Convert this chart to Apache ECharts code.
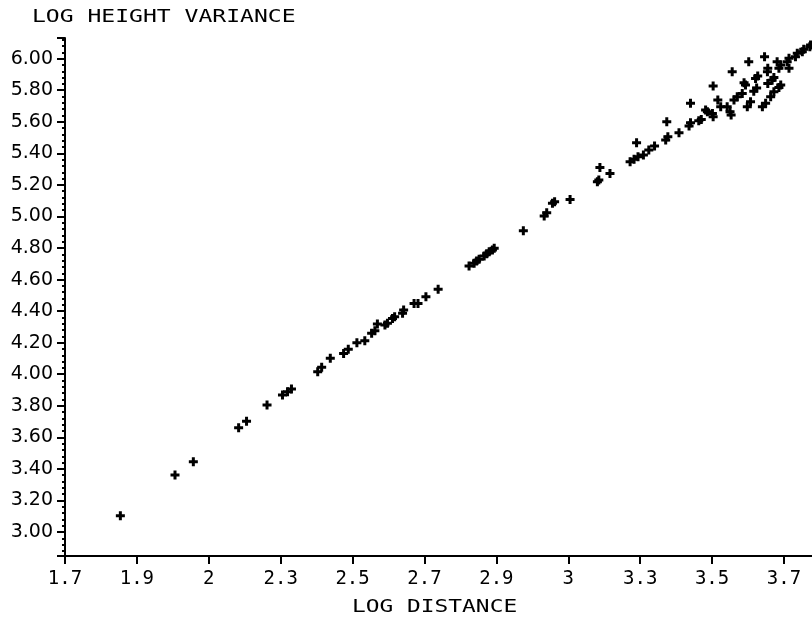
<!DOCTYPE html>
<html>
<head>
<meta charset="utf-8">
<script src="https://cdn.jsdelivr.net/npm/echarts@6/dist/echarts.min.js"></script>
<style>html,body{margin:0;padding:0;background:#fff}#c{width:812px;height:619px}</style>
</head>
<body>
<div id="c"></div>
<script>
// Tick labels as printed on the original x axis (one per 0.2 step from 1.7)
var xTickLabels = ['1.7','1.9','2','2.3','2.5','2.7','2.9','3','3.3','3.5','3.7'];
var xTitle = 'LOG DISTANCE';
var yTitle = 'LOG HEIGHT VARIANCE';

// log distance values
var logDistance = [
  1.854, 2.006, 2.057, 2.183, 2.205, 2.262, 2.305, 2.319, 2.330,
  2.403, 2.414, 2.438, 2.475, 2.488, 2.512, 2.534, 2.553, 2.562, 2.569,
  2.590, 2.597, 2.611, 2.617, 2.639, 2.642, 2.671, 2.682, 2.704, 2.738,
  2.824, 2.838, 2.845, 2.852, 2.866, 2.873, 2.880, 2.889, 2.894,
  2.975, 3.033, 3.040, 3.056, 3.062, 3.105, 3.181, 3.185, 3.188, 3.216,
  3.272, 3.283, 3.294, 3.290, 3.309, 3.324, 3.340, 3.371, 3.377, 3.374,
  3.408, 3.436, 3.440, 3.440, 3.463, 3.470, 3.482, 3.487, 3.501, 3.503,
  3.503, 3.516, 3.524, 3.542, 3.550, 3.553, 3.556, 3.561, 3.570, 3.584,
  3.589, 3.593, 3.598, 3.607, 3.602, 3.616, 3.624, 3.621, 3.627, 3.640,
  3.649, 3.646, 3.654, 3.655, 3.655, 3.663, 3.672, 3.667, 3.672, 3.686,
  3.691, 3.686, 3.691, 3.681, 3.714, 3.709, 3.714, 3.732, 3.737, 3.751,
  3.755, 3.772, 3.774
];
// log height variance values
var logHeightVariance = [
  3.103, 3.361, 3.446, 3.661, 3.702, 3.805, 3.868, 3.889, 3.906,
  4.016, 4.044, 4.101, 4.132, 4.158, 4.200, 4.212, 4.259, 4.276, 4.318,
  4.312, 4.323, 4.354, 4.364, 4.386, 4.407, 4.449, 4.449, 4.491, 4.538,
  4.686, 4.703, 4.717, 4.728, 4.749, 4.763, 4.776, 4.787, 4.798,
  4.909, 5.003, 5.023, 5.083, 5.093, 5.108, 5.220, 5.231, 5.311, 5.273,
  5.347, 5.362, 5.378, 5.467, 5.389, 5.421, 5.446, 5.484, 5.505, 5.600,
  5.530, 5.573, 5.594, 5.717, 5.606, 5.615, 5.674, 5.663, 5.653, 5.632,
  5.826, 5.738, 5.695, 5.695, 5.664, 5.643, 5.917, 5.738, 5.759, 5.780,
  5.847, 5.833, 5.695, 5.727, 5.980, 5.793, 5.814, 5.875, 5.890, 5.695,
  5.717, 6.012, 5.917, 5.939, 5.843, 5.759, 5.790, 5.864, 5.881, 5.818,
  5.833, 5.939, 5.960, 5.980, 5.939, 5.980, 6.002, 6.012, 6.034, 6.044,
  6.059, 6.075, 6.086
];

var points = logDistance.map(function (x, i) { return [x, logHeightVariance[i]]; });

var chart = echarts.init(document.getElementById('c'), null, {renderer: 'canvas'});
var mono = 'DejaVu Sans Mono';
chart.setOption({
  animation: false,
  backgroundColor: '#ffffff',
  grid: {left: 65, top: 38, right: 0, bottom: 63, containLabel: false},
  xAxis: {
    type: 'value',
    min: 1.7, max: 3.778, interval: 0.2,
    splitLine: {show: false},
    axisLine: {lineStyle: {color: '#000', width: 2}},
    axisTick: {length: 8, lineStyle: {color: '#000', width: 2}},
    axisLabel: {
      color: '#000', fontFamily: mono, fontSize: 19, margin: 14,
      showMaxLabel: false,
      formatter: function (v) {
        var i = Math.round((v - 1.7) / 0.2);
        if (Math.abs(1.7 + i * 0.2 - v) > 0.01) return '';
        return xTickLabels[i] || '';
      }
    }
  },
  yAxis: {
    type: 'value',
    min: 2.848, max: 6.131,
    splitNumber: 16, minInterval: 0.2, maxInterval: 0.2,
    splitLine: {show: false},
    axisLine: {lineStyle: {color: '#000', width: 2}},
    axisTick: {length: 8, lineStyle: {color: '#000', width: 2}},
    minorTick: {show: true, splitNumber: 5, length: 3, lineStyle: {color: '#000', width: 2}},
    axisLabel: {
      color: '#000', fontFamily: 'DejaVu Sans', fontSize: 19, margin: 12,
      showMinLabel: false, showMaxLabel: false,
      formatter: function (v) { return v.toFixed(2); }
    }
  },
  graphic: [
    {type: 'text', left: 32, top: 8, scaleX: 1.28,
     style: {text: yTitle, font: '18px "DejaVu Sans Mono"', fill: '#000'}},
    {type: 'text', left: 352, top: 598, scaleX: 1.27,
     style: {text: xTitle, font: '18px "DejaVu Sans Mono"', fill: '#000'}}
  ],
  series: [{
    type: 'scatter',
    data: points,
    symbol: 'path://M3,0H6V3H9V6H6V9H3V6H0V3H3Z',
    symbolSize: 9,
    itemStyle: {color: '#000', opacity: 1},
    clip: false
  }]
});
</script>
</body>
</html>
